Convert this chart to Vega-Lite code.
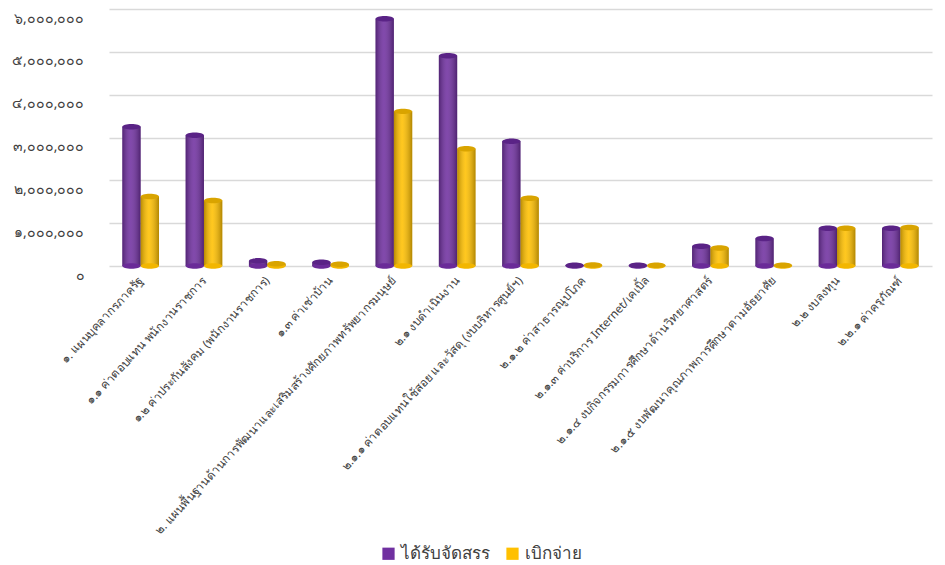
{
  "$schema": "https://vega.github.io/schema/vega-lite/v6.json",
  "width": 823,
  "height": 257,
  "autosize": {"type": "none"},
  "padding": {"left": 109, "top": 9, "right": 13, "bottom": 299},
  "background": "white",
  "config": {
    "view": {"stroke": null},
    "font": "Noto Sans, Tahoma, sans-serif"
  },
  "data": {
    "values": [
      {"cat": "๑. แผนบุคลากรภาครัฐ", "series": "ได้รับจัดสรร", "value": 3250000},
      {"cat": "๑. แผนบุคลากรภาครัฐ", "series": "เบิกจ่าย", "value": 1620000},
      {"cat": "๑.๑ ค่าตอบแทน พนักงานราชการ", "series": "ได้รับจัดสรร", "value": 3050000},
      {"cat": "๑.๑ ค่าตอบแทน พนักงานราชการ", "series": "เบิกจ่าย", "value": 1530000},
      {"cat": "๑.๒ ค่าประกันสังคม  (พนักงานราชการ)", "series": "ได้รับจัดสรร", "value": 120000},
      {"cat": "๑.๒ ค่าประกันสังคม  (พนักงานราชการ)", "series": "เบิกจ่าย", "value": 50000},
      {"cat": "๑.๓ ค่าเช่าบ้าน", "series": "ได้รับจัดสรร", "value": 90000},
      {"cat": "๑.๓ ค่าเช่าบ้าน", "series": "เบิกจ่าย", "value": 40000},
      {"cat": "๒. แผนพื้นฐานด้านการพัฒนาและเสริมสร้างศักยภาพทรัพยากรมนุษย์", "series": "ได้รับจัดสรร", "value": 5770000},
      {"cat": "๒. แผนพื้นฐานด้านการพัฒนาและเสริมสร้างศักยภาพทรัพยากรมนุษย์", "series": "เบิกจ่าย", "value": 3610000},
      {"cat": "๒.๑ งบดำเนินงาน", "series": "ได้รับจัดสรร", "value": 4910000},
      {"cat": "๒.๑ งบดำเนินงาน", "series": "เบิกจ่าย", "value": 2740000},
      {"cat": "๒.๑.๑ ค่าตอบแทนใช้สอย และวัสดุ (งบบริหารศูนย์ฯ)", "series": "ได้รับจัดสรร", "value": 2910000},
      {"cat": "๒.๑.๑ ค่าตอบแทนใช้สอย และวัสดุ (งบบริหารศูนย์ฯ)", "series": "เบิกจ่าย", "value": 1580000},
      {"cat": "๒.๑.๒ ค่าสาธารณูปโภค", "series": "ได้รับจัดสรร", "value": 20000},
      {"cat": "๒.๑.๒ ค่าสาธารณูปโภค", "series": "เบิกจ่าย", "value": 25000},
      {"cat": "๒.๑.๓ ค่าบริการ Internet/เคเบิ้ล", "series": "ได้รับจัดสรร", "value": 15000},
      {"cat": "๒.๑.๓ ค่าบริการ Internet/เคเบิ้ล", "series": "เบิกจ่าย", "value": 15000},
      {"cat": "๒.๑.๔ งบกิจกรรมการศึกษาด้านวิทยาศาสตร์", "series": "ได้รับจัดสรร", "value": 460000},
      {"cat": "๒.๑.๔ งบกิจกรรมการศึกษาด้านวิทยาศาสตร์", "series": "เบิกจ่าย", "value": 420000},
      {"cat": "๒.๑.๕ งบพัฒนาคุณภาพการศึกษาตามอัธยาศัย", "series": "ได้รับจัดสรร", "value": 640000},
      {"cat": "๒.๑.๕ งบพัฒนาคุณภาพการศึกษาตามอัธยาศัย", "series": "เบิกจ่าย", "value": 20000},
      {"cat": "๒.๒ งบลงทุน", "series": "ได้รับจัดสรร", "value": 880000},
      {"cat": "๒.๒ งบลงทุน", "series": "เบิกจ่าย", "value": 880000},
      {"cat": "๒.๒.๑ ค่าครุภัณฑ์", "series": "ได้รับจัดสรร", "value": 880000},
      {"cat": "๒.๒.๑ ค่าครุภัณฑ์", "series": "เบิกจ่าย", "value": 900000}
    ]
  },
  "encoding": {
    "x": {
      "field": "cat",
      "type": "nominal",
      "sort": null,
      "title": null,
      "scale": {"paddingInner": 0.42, "paddingOuter": 0.21},
      "axis": {
        "labelAngle": -47,
        "labelAlign": "right",
        "labelBaseline": "middle",
        "labelFontSize": 11.7,
        "labelColor": "#404040",
        "labelLimit": 0,
        "labelPadding": 12,
        "domain": false,
        "ticks": false
      }
    },
    "xOffset": {
      "field": "series",
      "type": "nominal",
      "scale": {"domain": ["ได้รับจัดสรร", "เบิกจ่าย"]}
    }
  },
  "layer": [
    {
      "mark": {"type": "bar"},
      "encoding": {
        "y": {
          "field": "value",
          "type": "quantitative",
          "title": null,
          "scale": {"domain": [0, 6000000]},
          "axis": {
            "values": [0, 1000000, 2000000, 3000000, 4000000, 5000000, 6000000],
            "labelExpr": "datum.value == 0 ? '๐' : ['๐','๑','๒','๓','๔','๕','๖'][round(datum.value/1000000)] + ',๐๐๐,๐๐๐'",
            "labelFontSize": 14,
            "labelColor": "#404040",
            "labelPadding": 25,
            "labelOffset": 9,
            "domain": false,
            "ticks": false,
            "gridColor": "#d9d9d9",
            "gridWidth": 1.5
          }
        },
        "color": {
          "field": "series",
          "type": "nominal",
          "title": null,
          "scale": {"domain": ["ได้รับจัดสรร", "เบิกจ่าย"], "range": ["#7030A0", "#FFC000"]},
          "legend": {
            "orient": "none",
            "direction": "horizontal",
            "legendX": 271,
            "legendY": 536,
            "symbolType": "square",
            "symbolSize": 150,
            "labelFontSize": 17,
            "labelColor": "#404040",
            "columnPadding": 14,
            "symbolStrokeWidth": 0
          }
        }
      }
    },
    {
      "mark": {
        "type": "bar",
        "color": {
          "x1": 0, "y1": 0, "x2": 1, "y2": 0,
          "gradient": "linear",
          "stops": [
            {"offset": 0, "color": "rgba(0,0,0,0.28)"},
            {"offset": 0.45, "color": "rgba(255,255,255,0.12)"},
            {"offset": 1, "color": "rgba(0,0,0,0.3)"}
          ]
        }
      },
      "encoding": {
        "y": {"field": "value", "type": "quantitative"}
      }
    },
    {
      "mark": {"type": "point", "filled": true, "opacity": 1, "strokeWidth": 0, "size": 335, "shape": "M-1,0A1,0.3,0,1,1,1,0A1,0.3,0,1,1,-1,0Z"},
      "encoding": {
        "y": {"datum": 0, "type": "quantitative"},
        "fill": {
          "field": "series",
          "type": "nominal",
          "scale": {"domain": ["ได้รับจัดสรร", "เบิกจ่าย"], "range": ["#6a2b98", "#f2b600"]},
          "legend": null
        }
      }
    },
    {
      "mark": {"type": "point", "filled": true, "opacity": 1, "strokeWidth": 0, "size": 335, "shape": "M-1,0A1,0.3,0,1,1,1,0A1,0.3,0,1,1,-1,0Z"},
      "encoding": {
        "y": {"field": "value", "type": "quantitative"},
        "fill": {
          "field": "series",
          "type": "nominal",
          "scale": {"domain": ["ได้รับจัดสรร", "เบิกจ่าย"], "range": ["#5a2386", "#d9a400"]},
          "legend": null
        }
      }
    }
  ],
  "resolve": {"scale": {"fill": "independent"}}
}
